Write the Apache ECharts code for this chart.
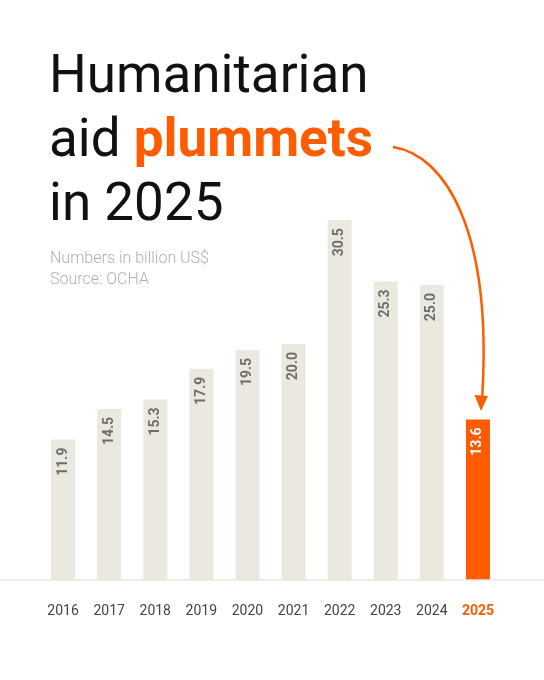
<!DOCTYPE html>
<html>
<head>
<meta charset="utf-8">
<script src="https://cdn.jsdelivr.net/npm/echarts@6/dist/echarts.min.js"></script>
<style>
  html, body { margin: 0; padding: 0; background: #fff; }
  #main { width: 544px; height: 680px; }
</style>
</head>
<body>
<div id="main"></div>
<script>
// 数据 (billion US$, OCHA)
var years = ['2016', '2017', '2018', '2019', '2020', '2021', '2022', '2023', '2024', '2025'];
var funding = [11.9, 14.5, 15.3, 17.9, 19.5, 20.0, 30.5, 25.3, 25.0, 13.6];
var highlightYear = '2025';

var ORANGE = '#fd5c00';
var BEIGE = '#eae8df';

function build_chart() {
	var barData = [];
	for (var i = 0; i < years.length; i++) {
		var hl = years[i] == highlightYear;
		barData.push({
			value: funding[i],
			itemStyle: { color: hl ? ORANGE : BEIGE },
			label: { color: hl ? '#ffffff' : '#6e6e6e' }
		});
	}

	var option = {
		animation: false,
		backgroundColor: '#fff',
		textStyle: { fontFamily: 'Roboto' },
		title: [{
			left: 49,
			top: 47,
			padding: 0,
			text: 'Humanitarian\naid {o|plummets}\nin 2025',
			textStyle: {
				fontFamily: 'Roboto',
				fontSize: 53,
				fontWeight: 'normal',
				color: '#111',
				lineHeight: 64,
				rich: {
					o: {
						fontFamily: 'Roboto',
						fontSize: 53,
						fontWeight: 'bold',
						color: ORANGE,
						lineHeight: 64
					}
				}
			}
		}, {
			left: 50,
			top: 248,
			padding: 0,
			text: 'Numbers in billion US$\nSource: OCHA',
			textStyle: {
				fontFamily: 'Roboto',
				fontSize: 16,
				fontWeight: 300,
				color: '#b0b0b0',
				lineHeight: 21
			}
		}],
		grid: {
			left: 40,
			right: 43,
			top: 108,
			bottom: 100
		},
		xAxis: {
			type: 'category',
			data: years,
			axisLine: { show: false },
			axisTick: { show: false },
			axisLabel: {
				interval: 0,
				margin: 24,
				fontSize: 14,
				color: '#444',
				fontFamily: 'Roboto',
				formatter: function(v) {
					return v == highlightYear ? '{hl|' + v + '}' : v;
				},
				rich: {
					hl: { color: ORANGE, fontWeight: 'bold', fontSize: 14, fontFamily: 'Roboto' }
				}
			}
		},
		yAxis: {
			type: 'value',
			min: 0,
			max: 40,
			show: false,
			splitLine: { show: false }
		},
		series: [{
			type: 'bar',
			data: barData,
			barWidth: 24,
			label: {
				show: true,
				position: 'insideTop',
				distance: 8,
				rotate: 90,
				align: 'right',
				verticalAlign: 'middle',
				fontSize: 14,
				fontWeight: 'bold',
				fontFamily: 'Roboto',
				formatter: function(p) { return p.value.toFixed(1); }
			}
		}],
		graphic: [{
			// baseline across the full width
			type: 'line',
			shape: { x1: 0, y1: 580, x2: 544, y2: 580 },
			style: { stroke: '#e8e6dc', lineWidth: 1.5 },
			z: 10
		}, {
			type: 'bezierCurve',
			shape: { x1: 393, y1: 147, cpx1: 445, cpy1: 155, cpx2: 493, cpy2: 230, x2: 482, y2: 400 },
			style: { stroke: ORANGE, lineWidth: 2.5, fill: null },
			z: 10
		}, {
			type: 'polygon',
			shape: { points: [[481, 411], [474.5, 395], [488, 396]] },
			style: { fill: ORANGE },
			z: 10
		}]
	};
	var myChart = echarts.init(document.getElementById('main'));
	myChart.setOption(option, true);
}
build_chart();
</script>
</body>
</html>
